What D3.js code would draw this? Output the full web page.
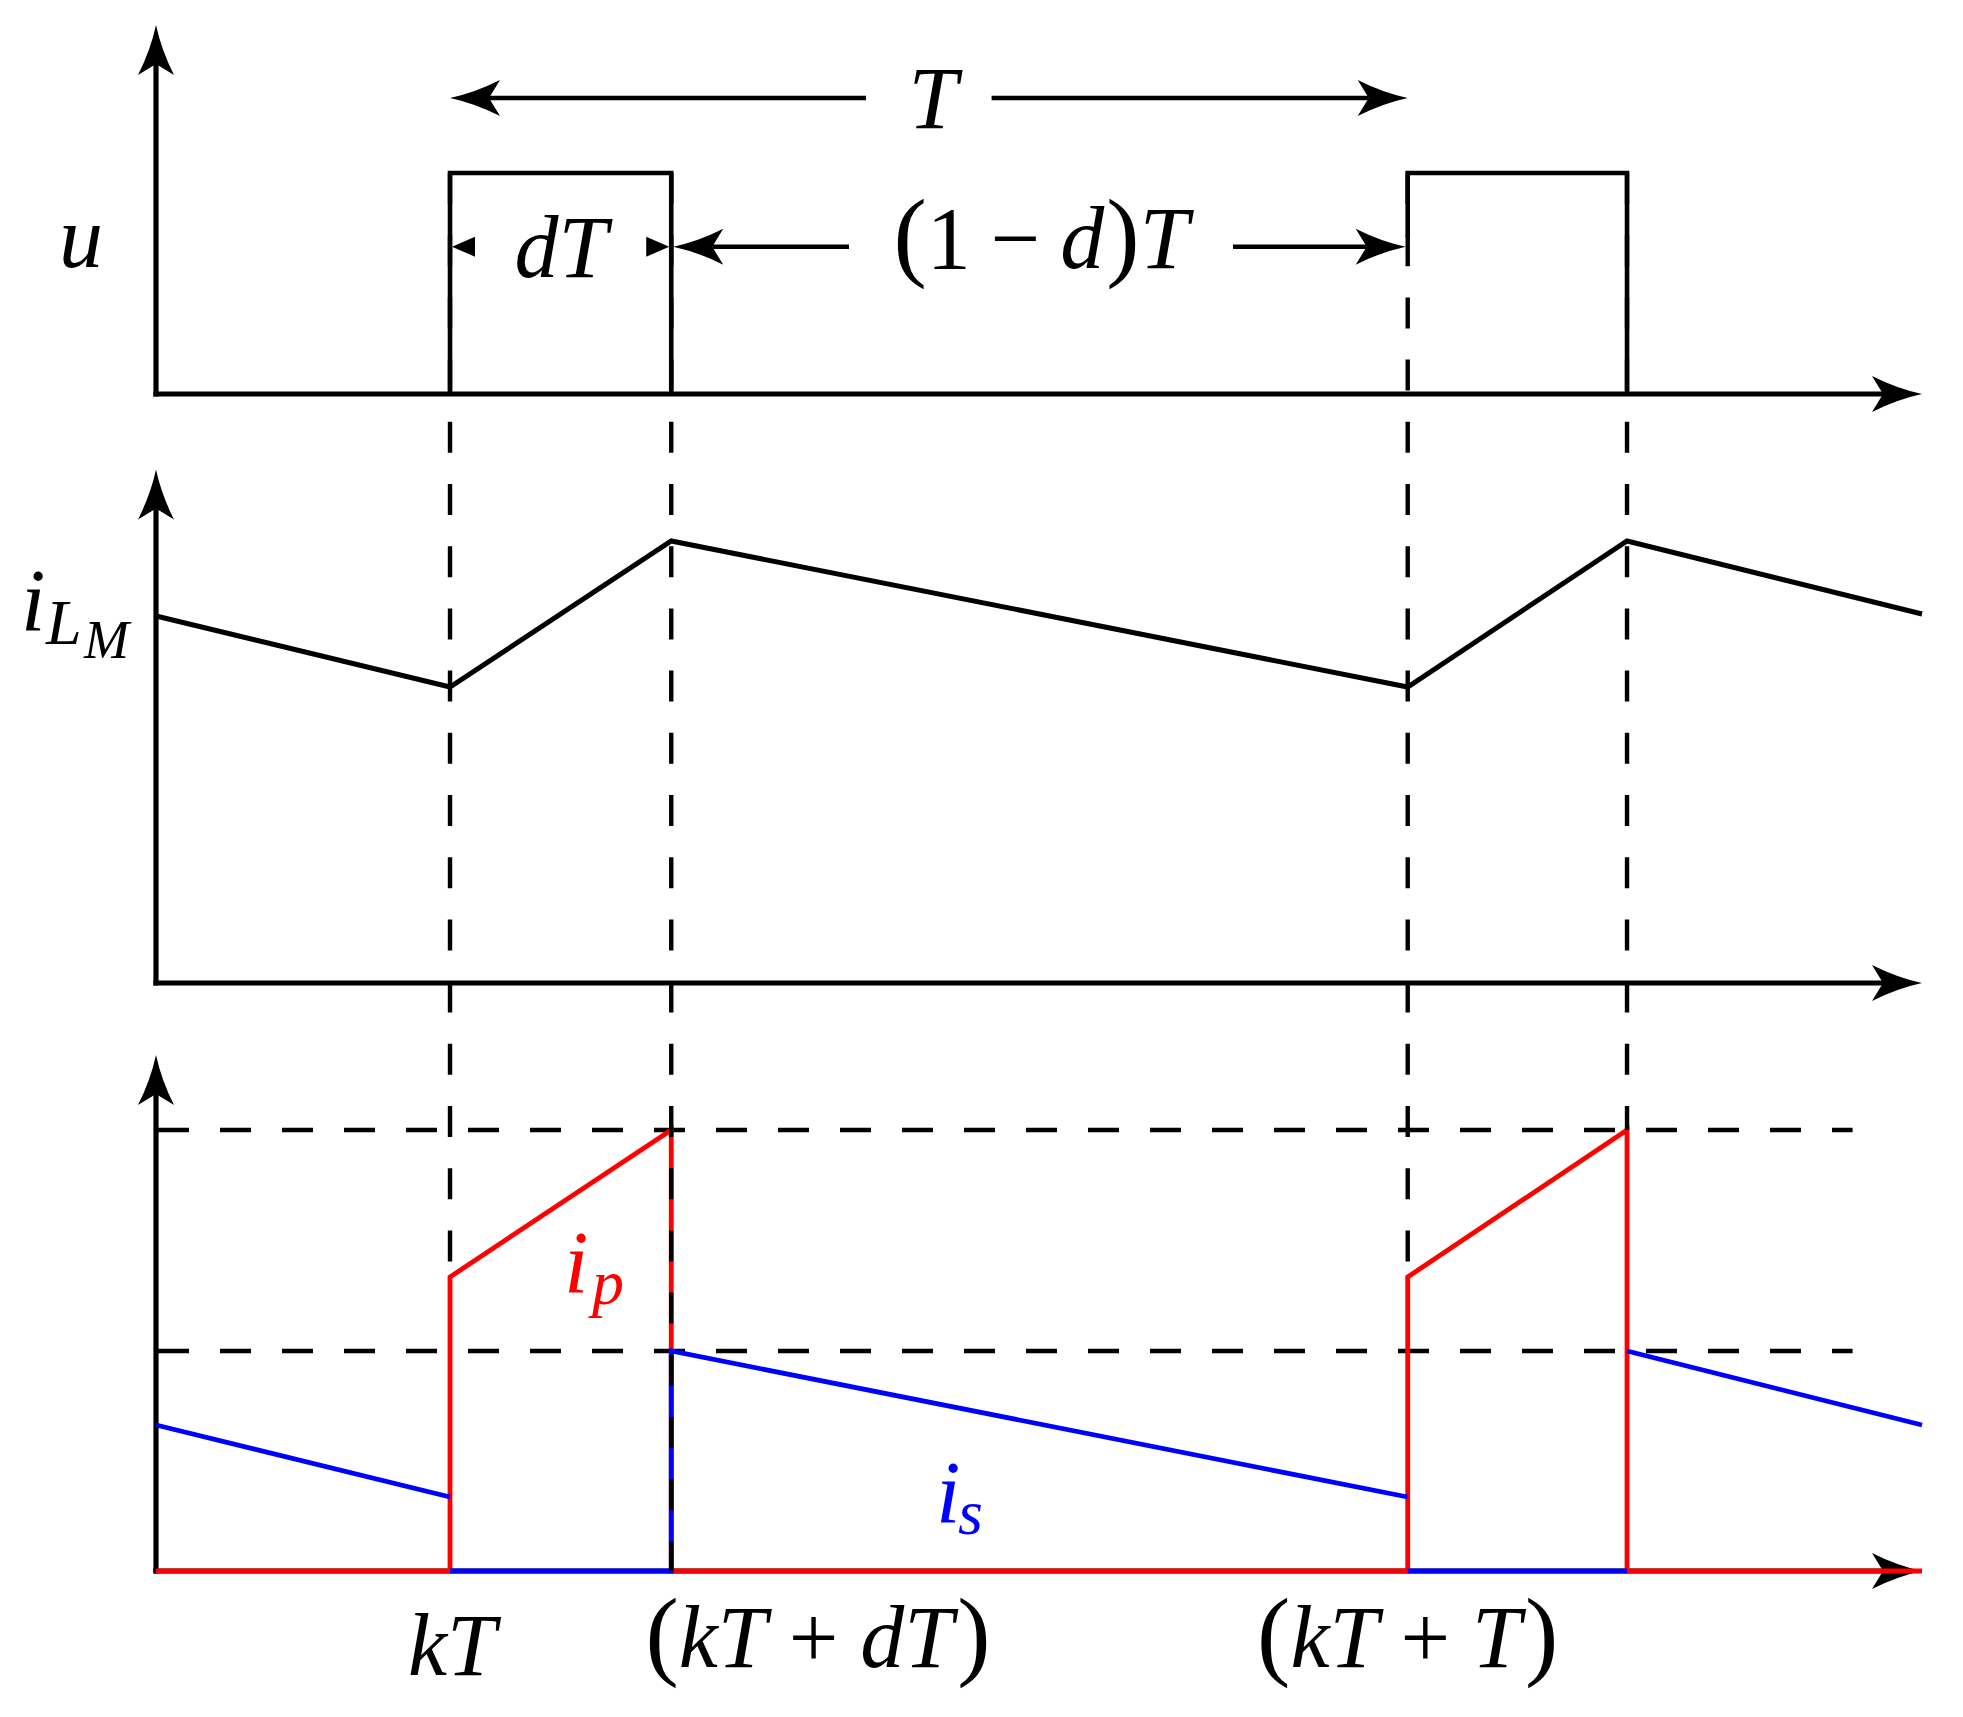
<!DOCTYPE html>
<html>
<head>
<meta charset="utf-8">
<script src="https://cdnjs.cloudflare.com/ajax/libs/d3/7.8.5/d3.min.js"></script>
<style>
  html, body { margin: 0; padding: 0; background: #fff; }
  svg { display: block; }
  text { font-family: "Liberation Serif", "Times New Roman", serif; }
</style>
</head>
<body>
<script>
// ---------------- DATA (time in units of T, kT = 0) ----------------
const tStart = -0.307, tEnd = 1.537;
const markTimes = [0, 0.231, 1, 1.229];           // kT, kT+dT, kT+T, kT+T+dT
const tickLabels = ["kT", "(kT+dT)", "(kT+T)"];

// gate signal u (pulses)
const uTimes  = [0, 0, 0.231, 0.231];
const uValues = [0, 1, 1, 0];
const u2Times  = [1, 1, 1.229, 1.229];
const u2Values = [0.71, 1, 1, 0];

// magnetising current i_LM
const iLMTimes  = [-0.307, 0, 0.231, 1, 1.229, 1.537];
const iLMValues = [3.67, 2.96, 4.42, 2.96, 4.42, 3.69];

// primary current i_p
const ipTimes  = [-0.307, 0, 0, 0.231, 0.231, 1, 1, 1.229, 1.229, 1.537];
const ipValues = [0, 0, 2.94, 4.41, 0, 0, 2.94, 4.41, 0, 0];

// secondary current i_s (null = break)
const isTimes  = [-0.307, 0, null, 0, 0.231, 0.231, 1, null, 1, 1.229, null, 1.229, 1.537];
const isValues = [1.46, 0.74, null, 0, 0, 2.2, 0.74, null, 0, 0, null, 2.2, 1.46];

// reference levels (dashed)
const refLevels = [4.41, 2.2];
const refEnd = 1.4645;
// dashed verticals: where they stop in the bottom panel (ip value, or 0 = axis)
const markStops = [2.94, 0, 2.94, 4.41];

// ---------------- LAYOUT ----------------
const W = 1963, H = 1717;
const svg = d3.select("body").append("svg").attr("width", W).attr("height", H);
svg.append("rect").attr("width", W).attr("height", H).attr("fill", "#fff");

const x = d3.scaleLinear().domain([tStart, tEnd]).range([156, 1922]);
const yU = d3.scaleLinear().domain([0, 1]).range([394, 173]);
const yL = d3.scaleLinear().domain([0, 1]).range([983, 883]);
const yB = d3.scaleLinear().domain([0, 1]).range([1571, 1471]);

const LW = 4.6, AW = 5.2;

function arrowHead(g, tx, ty, angleDeg, len = 50, half = 18, notch = 39) {
  g.append("path")
    .attr("d", `M0,0 Q${-len*0.5},${-half*0.3} ${-len},${-half} L${-notch},0 L${-len},${half} Q${-len*0.5},${half*0.3} 0,0 Z`)
    .attr("transform", `translate(${tx},${ty}) rotate(${angleDeg})`)
    .attr("fill", "#000");
}
function tri(g, tx, ty, angleDeg, len = 23, half = 10) {
  g.append("path")
    .attr("d", `M0,0 L${-len},${-half} L${-len},${half} Z`)
    .attr("transform", `translate(${tx},${ty}) rotate(${angleDeg})`)
    .attr("fill", "#000");
}
function seg(g, x1, y1, x2, y2, color = "#000", w = LW, dash = null) {
  const l = g.append("line").attr("x1", x1).attr("y1", y1).attr("x2", x2).attr("y2", y2)
    .attr("stroke", color).attr("stroke-width", w).attr("stroke-linecap", "butt");
  if (dash) l.attr("stroke-dasharray", dash);
  return l;
}
function axes(g, yScale, topTip) {
  const y0 = yScale(0);
  seg(g, x(tStart), y0 + AW / 2, x(tStart), topTip + 39, "#000", AW);
  arrowHead(g, x(tStart), topTip, -90);
  seg(g, x(tStart) - AW / 2, y0, x(tEnd) - 39, y0, "#000", AW);
  arrowHead(g, x(tEnd), y0, 0);
}
const line = d3.line().defined(d => d[0] !== null && d[1] !== null);

const g = svg.append("g");

// ---------- axes ----------
axes(g, yU, 25);
axes(g, yL, 469.5);
axes(g, yB, 1055);

// ---------- horizontal dashed reference levels ----------
refLevels.forEach(v => {
  seg(g, x(tStart) + 2, yB(v), x(refEnd), yB(v), "#000", 4.4, "31,31");
});

// ---------- top panel: pulses ----------
g.append("path").attr("d", line(uTimes.map((t, i) => [x(t), yU(uValues[i])])))
  .attr("fill", "none").attr("stroke", "#000").attr("stroke-width", LW).attr("stroke-linejoin", "miter");
g.append("path").attr("d", line(u2Times.map((t, i) => [x(t), yU(u2Values[i])])))
  .attr("fill", "none").attr("stroke", "#000").attr("stroke-width", LW).attr("stroke-linejoin", "miter");

// ---------- middle panel: i_LM ----------
g.append("path").attr("d", line(iLMTimes.map((t, i) => [x(t), yL(iLMValues[i])])))
  .attr("fill", "none").attr("stroke", "#000").attr("stroke-width", 5).attr("stroke-linejoin", "miter");

// ---------- bottom panel: i_p (red), i_s (blue) ----------
g.append("path").attr("d", line(ipTimes.map((t, i) => [x(t), yB(ipValues[i])])))
  .attr("fill", "none").attr("stroke", "#ff0000").attr("stroke-width", 4.8).attr("stroke-linejoin", "miter");
g.append("path").attr("d", line(isTimes.map((t, i) => [t === null ? null : x(t), isValues[i] === null ? null : yB(isValues[i])])))
  .attr("fill", "none").attr("stroke", "#0000ff").attr("stroke-width", 4.8).attr("stroke-linejoin", "miter");

// ---------- vertical dashed markers ----------
markTimes.forEach((t, i) => {
  seg(g, x(t), yU(1), x(t), yB(markStops[i]), "#000", 4.4, "31,31.2");
});

// ---------- dimension arrows ----------
const yT = 98, yD = 246.7;
// T arrow
seg(g, x(0) + 39, yT, 866, yT, "#000", 4.6);
seg(g, 991.6, yT, x(1) - 39, yT, "#000", 4.6);
arrowHead(g, x(0), yT, 180);
arrowHead(g, x(1), yT, 0);
// dT small triangles
tri(g, x(0) + 2, yD, 180);
tri(g, x(0.231) - 2, yD, 0);
// (1-d)T arrow
seg(g, x(0.231) + 2 + 39, yD, 849, yD, "#000", 4.6);
seg(g, 1233, yD, x(1) - 2 - 39, yD, "#000", 4.6);
arrowHead(g, x(0.231) + 2, yD, 180);
arrowHead(g, x(1) - 2, yD, 0);

// ---------------- TEXT ----------------
const FS = 88;
function mtext(px, py, parts, anchor = "middle", color = "#000") {
  const t = svg.append("text").attr("x", px).attr("y", py)
    .attr("text-anchor", anchor).attr("fill", color).attr("font-size", FS);
  parts.forEach(p => {
    const s = t.append("tspan").text(p.t)
      .attr("font-style", p.i ? "italic" : "normal");
    if (p.s) s.attr("font-size", p.s);
    if (p.dx) s.attr("dx", p.dx);
    if (p.dy) s.attr("dy", p.dy);
  });
  return t;
}
// panel labels
mtext(933, 128, [{ t: "T", i: 1 }]);
mtext(561, 277, [{ t: "d", i: 1 }, { t: "T", i: 1 }]);
mtext(1041, 268, [
  { t: "(", s: 100 }, { t: "1" }, { t: "−", dx: 20 }, { t: "d", i: 1, dx: 20 },
  { t: ")", s: 100, dx: 2 }, { t: "T", i: 1 }
]);
mtext(81, 267, [{ t: "u", i: 1 }]);

// i_{L_M}
mtext(21, 630, [{ t: "i", i: 1 }], "start");
mtext(46, 644, [{ t: "L", i: 1 }], "start").attr("font-size", 64);
mtext(84, 658, [{ t: "M", i: 1 }], "start").attr("font-size", 54);

// i_p, i_s
mtext(564, 1292, [{ t: "i", i: 1 }], "start", "#ff0000");
mtext(592, 1304, [{ t: "p", i: 1 }], "start", "#ff0000").attr("font-size", 64);
mtext(936, 1522, [{ t: "i", i: 1 }], "start", "#0000ff");
mtext(958, 1534, [{ t: "s", i: 1 }], "start", "#0000ff").attr("font-size", 64);

// time tick labels
mtext(x(markTimes[0]) + 2, 1675, [{ t: "k", i: 1 }, { t: "T", i: 1 }]);
mtext(818, 1667, [
  { t: "(", s: 100 }, { t: "k", i: 1 }, { t: "T", i: 1 }, { t: "+", dx: 22 },
  { t: "d", i: 1, dx: 22 }, { t: "T", i: 1 }, { t: ")", s: 100, dx: 4 }
]);
mtext(x(markTimes[2]), 1667, [
  { t: "(", s: 100 }, { t: "k", i: 1 }, { t: "T", i: 1 }, { t: "+", dx: 22 },
  { t: "T", i: 1, dx: 22 }, { t: ")", s: 100, dx: 4 }
]);
</script>
</body>
</html>
